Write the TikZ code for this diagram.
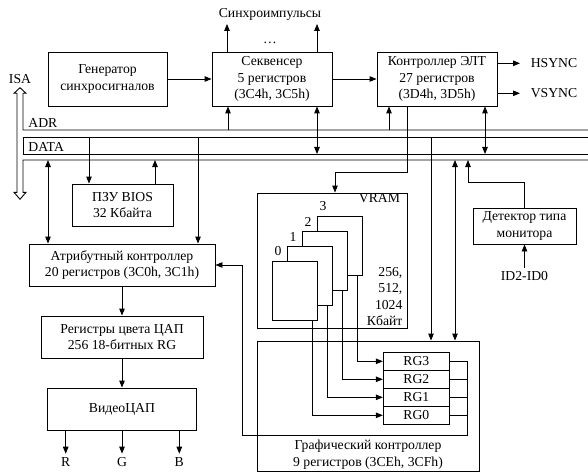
\documentclass[tikz,border=0pt]{standalone}
\usepackage{fontspec}
\setmainfont{Liberation Serif}
\usetikzlibrary{arrows.meta}

\tikzset{
  block/.style={draw, align=center, inner sep=2pt},
  arr/.style={-{Triangle[length=7pt,width=5.5pt]}},
  darr/.style={{Triangle[length=7pt,width=5.5pt]}-{Triangle[length=7pt,width=5.5pt]}},
  plane/.style={draw, fill=white, minimum width=45pt, minimum height=59pt},
  rgbox/.style={draw, minimum width=66pt, minimum height=18pt, inner sep=0pt},
}

\begin{document}
\begin{tikzpicture}[x=1pt, y=-1pt, line width=0.9pt,
    font=\fontsize{13.7}{16.5}\selectfont]
    \useasboundingbox (0,0) rectangle (588,473);

    %% ISA bus: ADR, DATA and the lower line
    \draw (588,160) -- (23,160) -- (23,192.3) -- (26,192.3) -- (20,199.3)
      -- (14,192.3) -- (17,192.3) -- (17,93.3) -- (14,93.3) -- (20,87.7)
      -- (26,93.3) -- (23,93.3) -- (23,130) -- (588,130);
    \draw (588,137) -- (23,137) -- (23,154) -- (588,154);
    \node (isa) at (20,79.5) {ISA};
    \node[anchor=west, inner sep=1pt] (adrl) at (27,123.3) {ADR};
    \node[anchor=west, inner sep=1pt] (datal) at (27,146.5) {DATA};

    %% top row
    \node[block, minimum width=119pt, minimum height=54pt] (gen) at (107.5,79)
      {Генератор\\синхросигналов};
    \node[block, minimum width=120pt, minimum height=54pt] (seq) at (272,79)
      {Секвенсер\\5 регистров\\(3C4h, 3C5h)};
    \node[block, minimum width=120pt, minimum height=54pt] (crt) at (437,79)
      {Контроллер ЭЛТ\\27 регистров\\(3D4h, 3D5h)};
    \draw[arr] (gen.east) -- (seq.west);
    \draw[arr] (seq.east) -- (crt.west);

    %% sync pulses
    \node (sync) at (270,14) {Синхроимпульсы};
    \node (dots) at (270,43) {…};
    \coordinate (sp1) at (227,24);
    \coordinate (sp2) at (317,24);
    \draw[arr] (sp1 |- seq.north) -- (sp1);
    \draw[arr] (sp2 |- seq.north) -- (sp2);

    %% HSYNC / VSYNC
    \node[anchor=west] (hs) at (527,63.3) {HSYNC};
    \node[anchor=west] (vs) at (527,93.3) {VSYNC};
    \draw[arr] (crt.east |- hs) -- ([xshift=-7pt]hs.west);
    \draw[arr] (crt.east |- vs) -- ([xshift=-7pt]vs.west);

    %% left column
    \node[block, minimum width=101pt, minimum height=42pt] (rom) at (122.5,205)
      {ПЗУ BIOS\\32 Кбайта};
    \node[block, minimum width=186pt, minimum height=42pt] (attr) at (122,265)
      {Атрибутный контроллер\\20 регистров (3C0h, 3C1h)};
    \node[block, minimum width=162pt, minimum height=42pt] (pal) at (122,337)
      {Регистры цвета ЦАП\\256 18-битных RG};
    \node[block, minimum width=149pt, minimum height=42pt] (dac) at (122,409)
      {ВидеоЦАП};
    \draw[arr] (attr.south) -- (pal.north);
    \draw[arr] (pal.south) -- (dac.north);
    \node (r) at (65.7,462) {R};
    \node (g) at (122,462) {G};
    \node (b) at (179.3,462) {B};
    \foreach \c in {r,g,b}
      \draw[arr] (dac.south -| \c) -- (\c.north);

    %% bus taps
    \coordinate (seqA) at (228,130);
    \coordinate (seqD) at (317,154);
    \coordinate (crtA) at (389,130);
    \coordinate (crtD) at (485,154);
    \coordinate (romA) at (89,137);
    \coordinate (romD) at (155,160);
    \coordinate (attrD) at (48,160);
    \coordinate (attrA) at (198,137);
    \coordinate (gcA) at (431,137);
    \coordinate (gcD) at (455,160);
    \coordinate (detD) at (468,160);
    \coordinate (detT) at (468,182);
    \draw[arr] (seqA) -- (seqA |- seq.south);
    \draw[darr] (seqD |- seq.south) -- (seqD);
    \draw[arr] (crtA) -- (crtA |- crt.south);
    \draw[darr] (crtD |- crt.south) -- (crtD);
    \draw[arr] (romA) -- (romA |- rom.north);
    \draw[arr] (romD |- rom.north) -- (romD);
    \draw[darr] (attrD) -- (attrD |- attr.north);
    \draw[arr] (attrA) -- (attrA |- attr.north);

    %% VRAM with four planes
    \node[draw, minimum width=150pt, minimum height=135pt] (vram) at (332,260.5) {};
    \node[anchor=north east, inner sep=0pt] (vraml) at ([xshift=-7pt]vram.north east) {VRAM};
    \node[anchor=south east, align=right, inner sep=0pt] (vsize)
      at ([xshift=-4.6pt,yshift=2pt]vram.south east) {256,\\512,\\1024\\Кбайт};
    \foreach \i in {3,2,1,0} {
      \node[plane] (p\i) at ({295+15*\i},{290.5-15*\i}) {};
      \node[anchor=south west, inner sep=0pt] (n\i) at ([xshift=2pt,yshift=4pt]p\i.north west) {\i};
    }
    \coordinate (vr1) at (407,172);
    \coordinate (vr2) at (335,172);
    \draw[arr] (vr1 |- crt.south) -- (vr1) -- (vr2) -- (vr2 |- vram.north);

    %% monitor detector
    \node[block, minimum width=103pt, minimum height=36pt] (det) at (524.5,226)
      {Детектор типа\\монитора};
    \node (id) at (524.5,276) {ID2-ID0};
    \draw[arr] (id.north) -- (det.south);
    \draw[arr] (det.north) |- (detT) -- (detD);

    %% graphics controller
    \node[draw, minimum width=222pt, minimum height=130pt] (gc) at (368,406) {};
    \node[anchor=south, align=center, inner sep=2pt] (gct) at (gc.south)
      {Графический контроллер\\9 регистров (3CEh, 3CFh)};
    \draw[arr] (gcA) -- (gcA |- gc.north);
    \draw[darr] (gcD) -- (gcD |- gc.north);
    \foreach \i in {0,...,3} {
      \node[rgbox] (rg\i) at (416.3,{361.3+18*(3-\i)}) {RG\i};
      \draw[arr] ([xshift=-6pt]p\i.south east) |- (rg\i.west);
    }
    \coordinate (fbt) at (467,435);
    \coordinate (fbl) at (242,435);
    \foreach \i in {0,1,2}
      \draw (rg\i.east) -- (rg\i.east -| fbt);
    \draw[arr] (rg3.east) -| (fbt) -- (fbl) |- (attr.east);
  \end{tikzpicture}
\end{document}
